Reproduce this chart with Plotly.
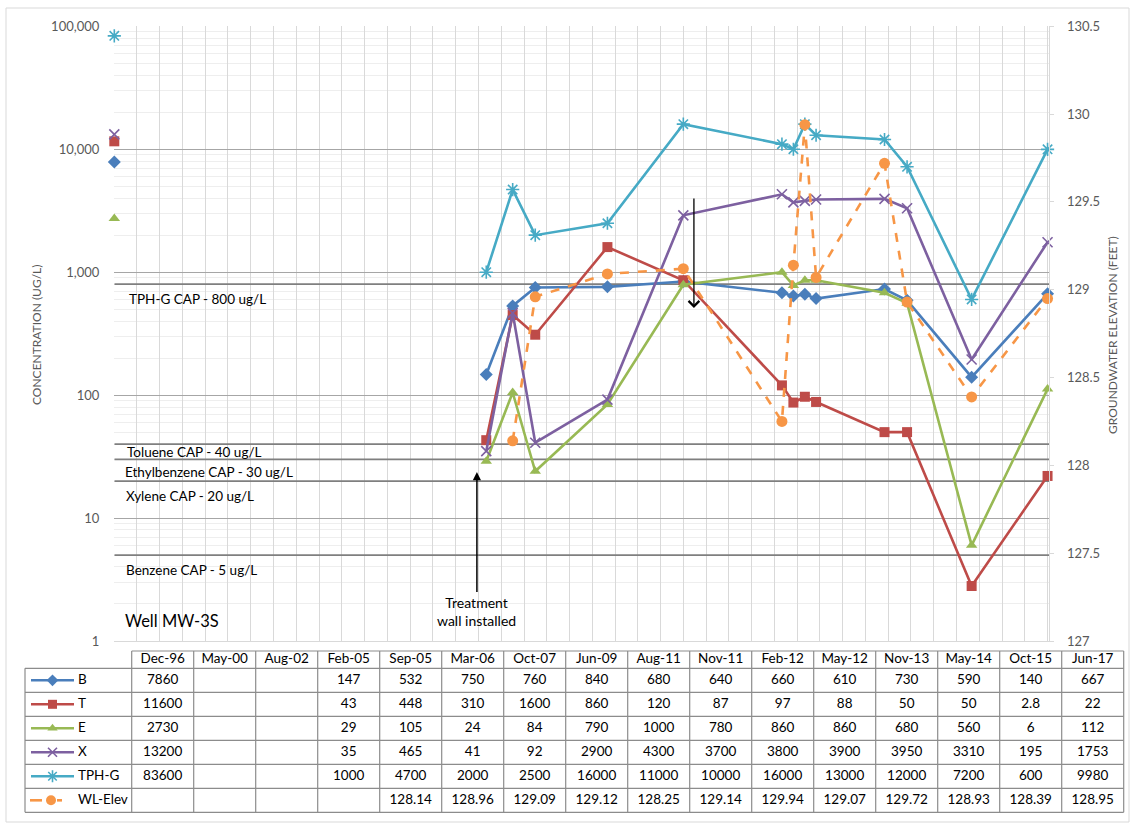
import math
import pandas as pd
import plotly.graph_objects as go

W, H = 1133, 825
def fx(px): return px / W
def fy(py): return 1 - py / H

# ---------------- data ----------------
labels = ['Dec-96', 'May-00', 'Aug-02', 'Feb-05', 'Sep-05', 'Mar-06', 'Oct-07', 'Jun-09',
          'Aug-11', 'Nov-11', 'Feb-12', 'May-12', 'Nov-13', 'May-14', 'Oct-15', 'Jun-17']
B = [7860, None, None, 147, 532, 750, 760, 840, 680, 640, 660, 610, 730, 590, 140, 667]
T = [11600, None, None, 43, 448, 310, 1600, 860, 120, 87, 97, 88, 50, 50, 2.8, 22]
E = [2730, None, None, 29, 105, 24, 84, 790, 1000, 780, 860, 860, 680, 560, 6, 112]
X = [13200, None, None, 35, 465, 41, 92, 2900, 4300, 3700, 3800, 3900, 3950, 3310, 195, 1753]
TPHG = [83600, None, None, 1000, 4700, 2000, 2500, 16000, 11000, 10000, 16000, 13000, 12000, 7200, 600, 9980]
WL = [None, None, None, None, 128.14, 128.96, 129.09, 129.12, 128.25, 129.14, 129.94, 129.07,
      129.72, 128.93, 128.39, 128.95]

cap_values = [800, 40, 30, 20, 5]
cap_labels = ['TPH-G CAP - 800 ug/L', 'Toluene CAP - 40 ug/L', 'Ethylbenzene CAP - 30 ug/L',
              'Xylene CAP - 20 ug/L', 'Benzene CAP - 5 ug/L']
cap_label_px = [(127, 299), (125, 452), (123, 472), (124, 496), (124, 570)]

left_ticks = [1, 10, 100, 1000, 10000, 100000]
left_ticktext = ['1', '10', '100', '1,000', '10,000', '100,000']

dates = pd.to_datetime(labels, format='%b-%y')
dates_s = [d.strftime('%Y-%m-%d') for d in dates]

FONT = 'Lato, Carlito, Calibri, sans-serif'
GRAY = '#595959'

series = [
    dict(name='B', y=B, color='#4A7EBB', symbol='diamond', size=10, axis='y', dash='solid'),
    dict(name='T', y=T, color='#BE4B48', symbol='square', size=10, axis='y', dash='solid'),
    dict(name='E', y=E, color='#98B954', symbol='triangle-up', size=10, axis='y', dash='solid'),
    dict(name='X', y=X, color='#7D60A0', symbol='x-thin-open', size=10, axis='y', dash='solid'),
    dict(name='TPH-G', y=TPHG, color='#46AAC5', symbol='asterisk-open', size=11, axis='y', dash='solid'),
    dict(name='WL-Elev', y=WL, color='#F79646', symbol='circle', size=11, axis='y2', dash='dash'),
]

fig = go.Figure()

# CAP lines
for v in cap_values:
    fig.add_trace(go.Scatter(x=[dates_s[0], '2017-06-15'], y=[v, v], mode='lines',
                             line=dict(color='#7f7f7f', width=1.8), hoverinfo='skip',
                             showlegend=False, xaxis='x', yaxis='y'))

for s in series:
    open_sym = s['symbol'].endswith('open')
    fig.add_trace(go.Scatter(
        x=dates_s, y=s['y'], mode='lines+markers', name=s['name'],
        line=dict(color=s['color'], width=2.6, dash=s['dash']),
        marker=dict(symbol=s['symbol'], size=s['size'], color=s['color'],
                    line=dict(color=s['color'], width=1.6 if open_sym else 0)),
        cliponaxis=False, connectgaps=False, showlegend=False,
        xaxis='x', yaxis=s['axis']))

# ---------------- table (pixel overlay axes) ----------------
col_left, col_w, n_cols = 131.7, 62.0, len(labels)
table_left, header_top, header_bot, row_h = 25.0, 651.0, 668.3, 24.0
table_right = col_left + n_cols * col_w
n_rows = len(series)
table_bot = header_bot + n_rows * row_h

def fmt(v):
    if v is None:
        return ''
    if float(v).is_integer():
        return str(int(v))
    return str(v)

tx, ty, tt = [], [], []
for i, lab in enumerate(labels):
    tx.append(col_left + (i + 0.5) * col_w); ty.append((header_top + header_bot) / 2); tt.append(lab)
for r, s in enumerate(series):
    for i, v in enumerate(s['y']):
        tx.append(col_left + (i + 0.5) * col_w)
        ty.append(header_bot + (r + 0.5) * row_h)
        tt.append(fmt(v))
fig.add_trace(go.Scatter(x=tx, y=ty, text=tt, mode='text', textposition='middle center',
                         textfont=dict(family=FONT, size=13.5, color='black'),
                         hoverinfo='skip', showlegend=False, xaxis='x3', yaxis='y3'))

# row labels with legend keys
for r, s in enumerate(series):
    yc = header_bot + (r + 0.5) * row_h
    open_sym = s['symbol'].endswith('open')
    if s['dash'] == 'dash':
        kx = [30, 42, None, 57, 62]
        ky = [yc, yc, None, yc, yc]
        fig.add_trace(go.Scatter(x=kx, y=ky, mode='lines', line=dict(color=s['color'], width=2.6),
                                 connectgaps=False, hoverinfo='skip', showlegend=False,
                                 xaxis='x3', yaxis='y3'))
        mx = 51
    else:
        fig.add_trace(go.Scatter(x=[31, 74], y=[yc, yc], mode='lines',
                                 line=dict(color=s['color'], width=2.6),
                                 hoverinfo='skip', showlegend=False, xaxis='x3', yaxis='y3'))
        mx = 52.5
    fig.add_trace(go.Scatter(x=[mx], y=[yc], mode='markers',
                             marker=dict(symbol=s['symbol'], size=s['size'] - 1, color=s['color'],
                                         line=dict(color=s['color'], width=1.6 if open_sym else 0)),
                             hoverinfo='skip', showlegend=False, xaxis='x3', yaxis='y3'))
    fig.add_trace(go.Scatter(x=[78], y=[yc], text=[s['name']], mode='text', textposition='middle right',
                             textfont=dict(family=FONT, size=13.5, color='black'),
                             hoverinfo='skip', showlegend=False, xaxis='x3', yaxis='y3'))

shapes = []
tline = dict(color='#8c8c8c', width=1.2)
shapes.append(dict(type='line', xref='x3', yref='y3', x0=col_left, x1=table_right,
                   y0=header_top, y1=header_top, line=tline))
for k in range(n_rows + 1):
    yy = header_bot + k * row_h
    shapes.append(dict(type='line', xref='x3', yref='y3', x0=table_left, x1=table_right,
                       y0=yy, y1=yy, line=tline))
shapes.append(dict(type='line', xref='x3', yref='y3', x0=table_left, x1=table_left,
                   y0=header_bot, y1=table_bot, line=tline))
for i in range(n_cols + 1):
    xx = col_left + i * col_w
    shapes.append(dict(type='line', xref='x3', yref='y3', x0=xx, x1=xx,
                       y0=header_top, y1=table_bot, line=tline))
# chart outer border
shapes.append(dict(type='rect', xref='paper', yref='paper', x0=fx(6), x1=fx(1129),
                   y0=fy(822), y1=fy(8), line=dict(color='#d9d9d9', width=1)))

annotations = []
for (lx, ly), txt in zip(cap_label_px, cap_labels):
    annotations.append(dict(xref='paper', yref='paper', x=fx(lx), y=fy(ly), text=txt,
                            showarrow=False, xanchor='left', yanchor='middle',
                            font=dict(family=FONT, size=13.5, color='black')))
annotations.append(dict(xref='paper', yref='paper', x=fx(123), y=fy(621), text='Well MW-3S',
                        showarrow=False, xanchor='left', yanchor='middle',
                        font=dict(family=FONT, size=16.5, color='black')))
annotations.append(dict(xref='paper', yref='paper', x=fx(37), y=fy(335), text='CONCENTRATION (UG/L)',
                        showarrow=False, textangle=-90, xanchor='center', yanchor='middle',
                        font=dict(family=FONT, size=12, color=GRAY)))
annotations.append(dict(xref='paper', yref='paper', x=fx(1113), y=fy(335),
                        text='GROUNDWATER ELEVATION (FEET)', showarrow=False, textangle=-90,
                        xanchor='center', yanchor='middle', font=dict(family=FONT, size=12, color=GRAY)))
# treatment wall arrow
annotations.append(dict(xref='x', yref='paper', x='2004-11-18', y=fy(472),
                        text='Treatment<br>wall installed', showarrow=True, arrowhead=2,
                        arrowsize=1.1, arrowwidth=1.5, arrowcolor='black', ax=0, ay=139,
                        font=dict(family=FONT, size=14, color='black')))
# downward arrow
annotations.append(dict(xref='x', yref='paper', x='2009-08-25', y=fy(308), text='',
                        showarrow=True, arrowhead=4, arrowsize=1.6, arrowwidth=1.3,
                        arrowcolor='black', ax=0, ay=-111))

minor_vals = [m * 10 ** d for d in range(5) for m in range(2, 10)]

fig.update_layout(
    width=W, height=H, autosize=False,
    margin=dict(l=0, r=0, t=0, b=0, pad=0, autoexpand=False),
    paper_bgcolor='white', plot_bgcolor='rgba(0,0,0,0)',
    font=dict(family=FONT, color=GRAY),
    showlegend=False,
    xaxis=dict(domain=[fx(114.3), fx(1049.3)], type='date', range=['1996-12-01', '2017-06-15'],
               tickmode='linear', tick0='1996-12-01', dtick='M6', showgrid=True,
               gridcolor='#d9d9d9', gridwidth=1, showticklabels=False, ticks='',
               showline=True, linecolor='#d9d9d9', linewidth=1, zeroline=False, anchor='y',
               automargin=False),
    yaxis=dict(domain=[fy(641), fy(26.3)], type='log', range=[0, 5], tickmode='array',
               tickvals=left_ticks, ticktext=left_ticktext, showgrid=True, gridcolor='#a6a6a6',
               gridwidth=1, zeroline=False, showline=False, ticks='', ticklabelstandoff=14,
               tickfont=dict(family=FONT, size=13, color=GRAY),
               minor=dict(tickmode='array', tickvals=minor_vals, showgrid=True,
                          gridcolor='#eeeeee', gridwidth=1, ticks=''),
               anchor='x', automargin=False),
    yaxis2=dict(overlaying='y', side='right', range=[127, 130.5], tickmode='linear', tick0=127,
                dtick=0.5, showgrid=False, zeroline=False, showline=True, linecolor='#d9d9d9',
                ticks='outside', ticklen=4, tickcolor='#d9d9d9', ticklabelstandoff=10,
                tickfont=dict(family=FONT, size=13, color=GRAY), anchor='x', automargin=False),
    xaxis3=dict(domain=[0, 1], range=[0, W], visible=False, anchor='y3', fixedrange=True,
                automargin=False),
    yaxis3=dict(domain=[0, fy(646)], range=[H, 646], visible=False, anchor='x3', fixedrange=True,
                automargin=False),
    shapes=shapes, annotations=annotations,
)

fig.write_html('out.html', config={'displayModeBar': False, 'responsive': False},
               post_script="document.body.style.margin='0';")
